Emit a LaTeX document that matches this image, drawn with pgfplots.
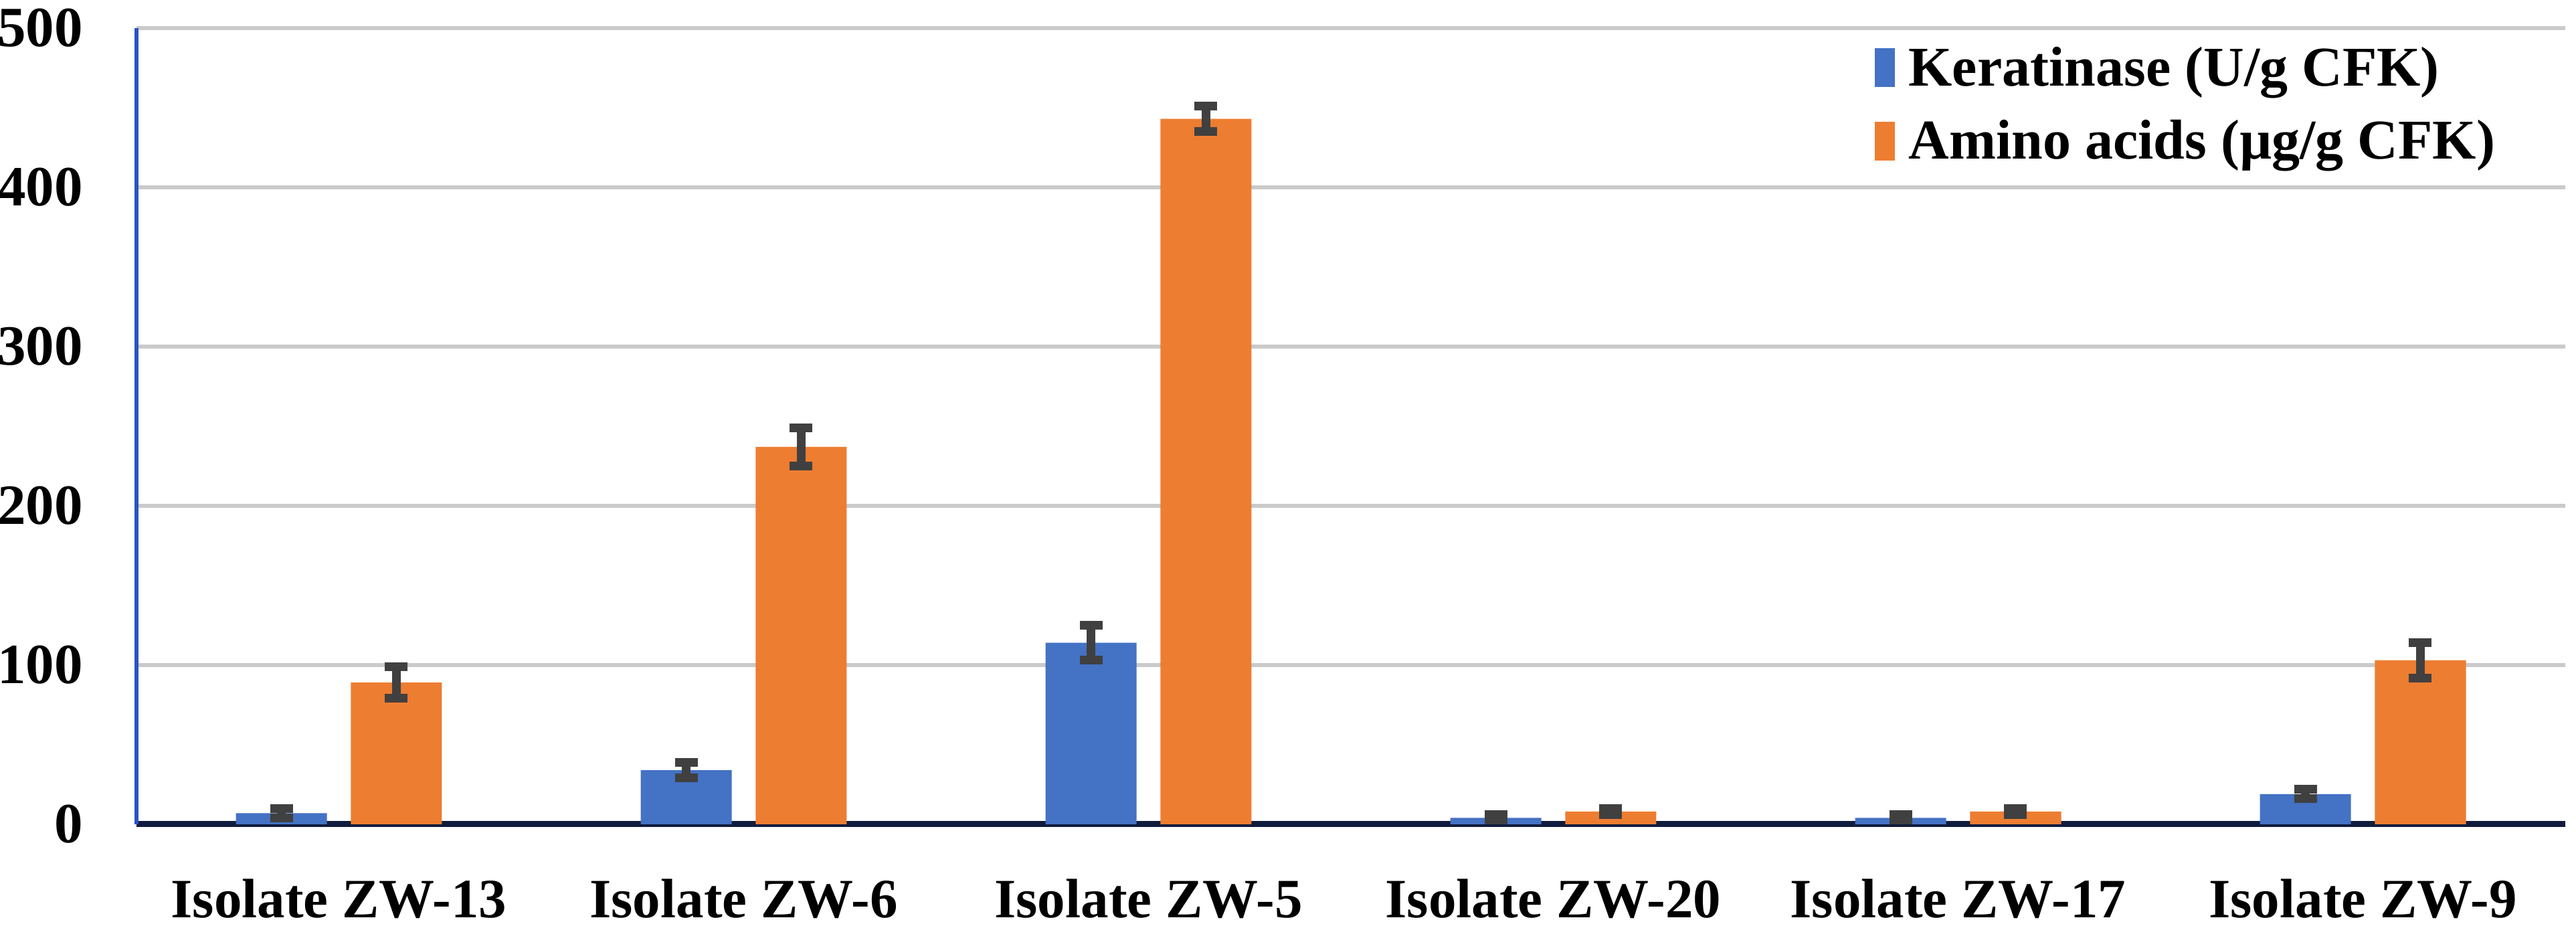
\documentclass[border=0pt]{standalone}
\usepackage{fontspec}
\setmainfont{Liberation Serif}
\usepackage{pgfplots}
\usepackage{pgfplotstable}
\pgfplotsset{compat=1.18}
\definecolor{kblue}{HTML}{4472C4}
\definecolor{korange}{HTML}{ED7D31}
\definecolor{yaxisblue}{HTML}{2A52C4}
\definecolor{xaxisnavy}{HTML}{101C3C}
\definecolor{errgray}{HTML}{404040}
\definecolor{gridgray}{HTML}{CACACA}
\pgfplotstableread{
x ker kerr ami aerr
0 7 3 89 10
1 34 5 237 12
2 114 11 443 8
3 4 2 8 2
4 4 2 8 2
5 19 3 103 11
}\datatable
\begin{document}
\begin{tikzpicture}
\begin{axis}[
  scale only axis,
  width=363pt, height=119pt,
  xmin=-0.5, xmax=5.5,
  ymin=0, ymax=500,
  ytick={0,100,200,300,400,500},
  xtick={0,1,2,3,4,5},
  xticklabels={Isolate ZW-13, Isolate ZW-6, Isolate ZW-5, Isolate ZW-20, Isolate ZW-17, Isolate ZW-9},
  major tick length=0pt,
  /pgf/number format/assume math mode=true,
  yticklabel style={font=\bfseries\fontsize{8.5}{10}\selectfont, anchor=east, xshift=-4.5pt},
  xticklabel style={font=\bfseries\fontsize{8.3}{10}\selectfont, anchor=base, yshift=-14pt},
  axis x line*=bottom,
  axis y line*=left,
  x axis line style={xaxisnavy, line width=0.9pt},
  y axis line style={yaxisblue, line width=0.6pt},
  ymajorgrids,
  grid style={gridgray, line width=0.6pt},
  ybar,
  bar width=0.225,
  legend style={draw=none, fill=none, at={(0.707,1.012)}, anchor=north west,
    font=\bfseries\fontsize{8.4}{10}\selectfont, row sep=-0.4pt,
    /tikz/every even column/.append style={column sep=2pt}},
  legend cell align=left,
  legend image code/.code={\fill[#1] (0pt,-2.4pt) rectangle (3pt,3.4pt);},
]
\addplot[fill=kblue, draw=none, bar shift=-0.142,
  error bars/.cd, y dir=both, y explicit,
  error bar style={line width=1.3pt, errgray},
  error mark options={rotate=90, mark size=1.7pt, line width=1.3pt, errgray}]
  table[x=x, y=ker, y error=kerr] {\datatable};
\addlegendentry{Keratinase (U/g CFK)}
\addplot[fill=korange, draw=none, bar shift=0.142,
  error bars/.cd, y dir=both, y explicit,
  error bar style={line width=1.3pt, errgray},
  error mark options={rotate=90, mark size=1.7pt, line width=1.3pt, errgray}]
  table[x=x, y=ami, y error=aerr] {\datatable};
\addlegendentry{Amino acids (µg/g CFK)}
\end{axis}
\pgfresetboundingbox
\path[use as bounding box] ([xshift=-20.4pt,yshift=-15.2pt]current axis.south west) rectangle ([xshift=1.6pt,yshift=4.2pt]current axis.north east);
\end{tikzpicture}
\end{document}
